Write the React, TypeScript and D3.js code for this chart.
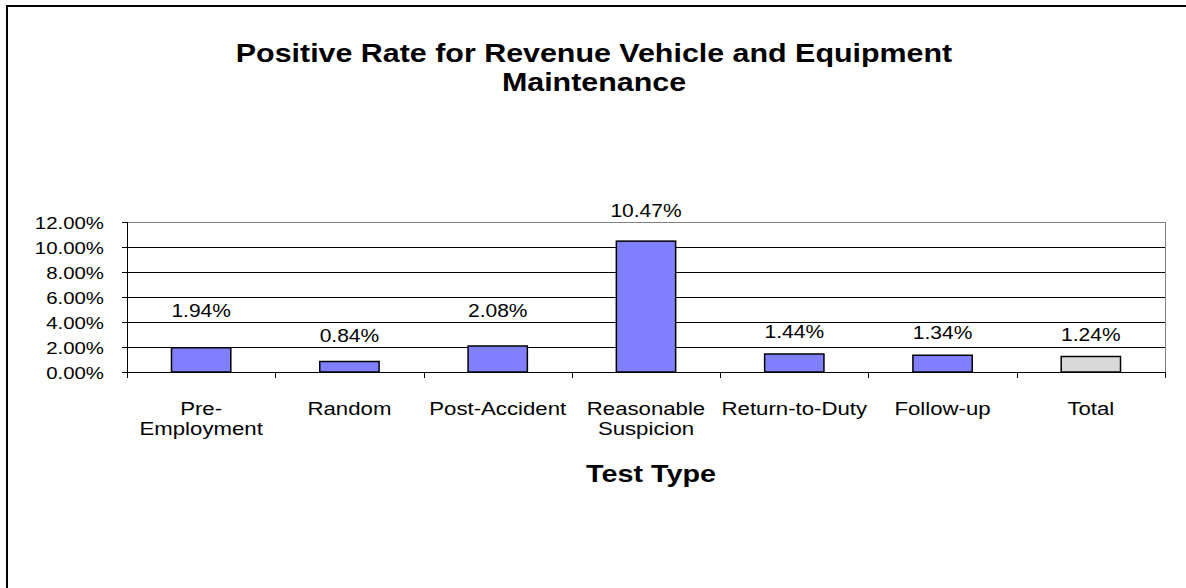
import { useEffect, useRef } from "react";
import * as d3 from "d3";

const categories = [
  "Pre-\nEmployment",
  "Random",
  "Post-Accident",
  "Reasonable\nSuspicion",
  "Return-to-Duty",
  "Follow-up",
  "Total",
];
const rates = [1.94, 0.84, 2.08, 10.47, 1.44, 1.34, 1.24];
const yTicks = [0, 2, 4, 6, 8, 10, 12];
const titleLines = ["Positive Rate for Revenue Vehicle and Equipment", "Maintenance"];
const xTitle = "Test Type";

const W = 1186;
const H = 588;
const FONT = "'Liberation Sans', Arial, sans-serif";
const SX = 1.2; // text in the original is stretched horizontally

export default function App() {
  const svgRef = useRef<SVGSVGElement>(null);

  useEffect(() => {
    if (!svgRef.current) return;
    const svg = d3.select(svgRef.current);
    svg.selectAll("*").remove();

    const left = 127;
    const right = 1165;
    const top = 222;
    const bottom = 372;

    // outer frame
    svg
      .append("rect")
      .attr("x", 7)
      .attr("y", 6)
      .attr("width", W + 20)
      .attr("height", H + 20)
      .attr("fill", "white")
      .attr("stroke", "#000")
      .attr("stroke-width", 2);

    // title
    titleLines.forEach((t, i) => {
      svg
        .append("g")
        .attr("transform", `translate(594,${62 + i * 29}) scale(1.17,1)`)
        .append("text")
        .attr("text-anchor", "middle")
        .style("font-family", FONT)
        .style("font-weight", "bold")
        .style("font-size", "26px")
        .text(t);
    });

    const x = d3.scaleBand<string>().domain(categories).range([left, right]).padding(0);
    const y = d3.scaleLinear().domain([0, 12]).range([bottom, top]);

    // gridlines
    svg
      .append("g")
      .selectAll("line")
      .data(yTicks.filter((d) => d > 0))
      .enter()
      .append("line")
      .attr("x1", left)
      .attr("x2", right)
      .attr("y1", (d) => Math.round(y(d)) + 0.5)
      .attr("y2", (d) => Math.round(y(d)) + 0.5)
      .attr("stroke", (d) => (d === 12 ? "#808080" : "#000"))
      .attr("stroke-width", 1);

    // plot area right border
    svg
      .append("line")
      .attr("x1", right + 0.5)
      .attr("x2", right + 0.5)
      .attr("y1", top)
      .attr("y2", bottom)
      .attr("stroke", "#808080");

    // bars
    const bw = x.bandwidth() * 0.4;
    svg
      .append("g")
      .selectAll("rect")
      .data(rates)
      .enter()
      .append("rect")
      .attr("x", (d, i) => x(categories[i])! + (x.bandwidth() - bw) / 2)
      .attr("y", (d) => y(d))
      .attr("width", bw)
      .attr("height", (d) => y(0) - y(d))
      .attr("fill", (d, i) => (categories[i] === "Total" ? "#d9d9d9" : "#8080ff"))
      .attr("stroke", "#000")
      .attr("stroke-width", 1.5);

    // value labels: sit above the bar, pushed up when they would cross a gridline
    const labelCenter = (v: number) => {
      const c = y(v) - 22;
      const hit = yTicks.map((t) => y(t)).find((g) => Math.abs(g - c) < 8);
      return hit !== undefined ? hit - 11 : c;
    };
    svg
      .append("g")
      .selectAll("g")
      .data(rates)
      .enter()
      .append("g")
      .attr(
        "transform",
        (d, i) =>
          `translate(${x(categories[i])! + x.bandwidth() / 2},${labelCenter(d) + 6}) scale(${SX},1)`
      )
      .append("text")
      .attr("text-anchor", "middle")
      .style("font-family", FONT)
      .style("font-size", "17.5px")
      .text((d) => d.toFixed(2) + "%");

    // y axis
    const yAxis = svg.append("g");
    yAxis
      .append("line")
      .attr("x1", left + 0.5)
      .attr("x2", left + 0.5)
      .attr("y1", top)
      .attr("y2", bottom + 0.5)
      .attr("stroke", "#000");
    yTicks.forEach((t) => {
      const yy = Math.round(y(t)) + 0.5;
      yAxis
        .append("line")
        .attr("x1", left - 5)
        .attr("x2", left)
        .attr("y1", yy)
        .attr("y2", yy)
        .attr("stroke", "#000");
      yAxis
        .append("g")
        .attr("transform", `translate(104,${yy + 6}) scale(${SX},1)`)
        .append("text")
        .attr("text-anchor", "end")
        .style("font-family", FONT)
        .style("font-size", "17px")
        .text(t.toFixed(2) + "%");
    });

    // x axis
    const xAxis = svg.append("g");
    xAxis
      .append("line")
      .attr("x1", left)
      .attr("x2", right + 1)
      .attr("y1", bottom + 0.5)
      .attr("y2", bottom + 0.5)
      .attr("stroke", "#000");
    const bounds = categories.map((c) => x(c)!).concat([right]);
    bounds.forEach((b) => {
      xAxis
        .append("line")
        .attr("x1", Math.round(b) + 0.5)
        .attr("x2", Math.round(b) + 0.5)
        .attr("y1", bottom)
        .attr("y2", bottom + 6)
        .attr("stroke", "#000");
    });
    categories.forEach((c) => {
      c.split("\n").forEach((line, j) => {
        xAxis
          .append("g")
          .attr(
            "transform",
            `translate(${x(c)! + x.bandwidth() / 2},${415 + j * 20}) scale(${SX},1)`
          )
          .append("text")
          .attr("text-anchor", "middle")
          .style("font-family", FONT)
          .style("font-size", "18.5px")
          .text(line);
      });
    });

    // x axis title
    svg
      .append("g")
      .attr("transform", `translate(651,482) scale(1.25,1)`)
      .append("text")
      .attr("text-anchor", "middle")
      .style("font-family", FONT)
      .style("font-weight", "bold")
      .style("font-size", "23px")
      .text(xTitle);
  }, []);

  return (
    <svg
      ref={svgRef}
      width={W}
      height={H}
      style={{ position: "absolute", left: 0, top: 0, background: "white" }}
    />
  );
}
